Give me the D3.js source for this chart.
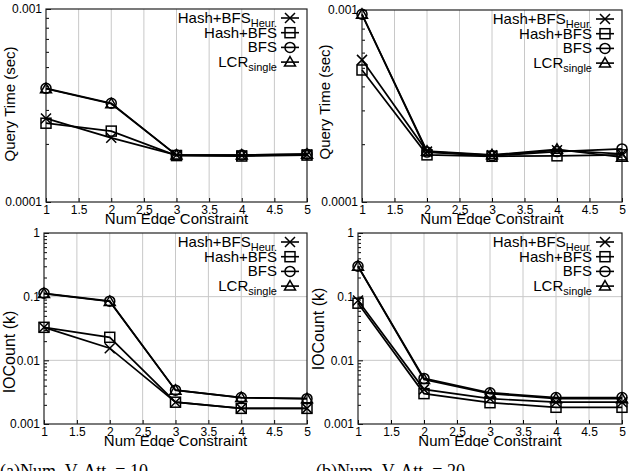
<!DOCTYPE html>
<html>
<head>
  <script src="https://cdn.jsdelivr.net/npm/d3@7"></script>
  <style>body { margin: 0; background: #fff } svg { font-family: "Liberation Sans", Arial, sans-serif }</style>
</head>
<body>
  <div id="fig"></div>
  <script>
    // x values shared by all four panels
    const xs = [1, 2, 3, 4, 5];
    const xTicks = [1, 1.5, 2, 2.5, 3, 3.5, 4, 4.5, 5];
    const xTickLabels = ['1', '1.5', '2', '2.5', '3', '3.5', '4', '4.5', '5'];

    const seriesNames = ['Hash+BFS|Heur.', 'Hash+BFS|', 'BFS|', 'LCR|single'];
    const seriesMarks = ['cross', 'square', 'circle', 'triangle'];

    // query time, 10 vertex attributes
    const qt10Heur = [2.71e-4, 2.15e-4, 1.75e-4, 1.74e-4, 1.76e-4];
    const qt10Hash = [2.56e-4, 2.33e-4, 1.74e-4, 1.73e-4, 1.75e-4];
    const qt10Bfs  = [3.88e-4, 3.25e-4, 1.75e-4, 1.75e-4, 1.77e-4];
    const qt10Lcr  = [3.86e-4, 3.23e-4, 1.75e-4, 1.75e-4, 1.77e-4];
    // query time, 20 vertex attributes
    const qt20Heur = [5.5e-4, 1.83e-4, 1.75e-4, 1.86e-4, 1.78e-4];
    const qt20Hash = [4.87e-4, 1.76e-4, 1.73e-4, 1.74e-4, 1.76e-4];
    const qt20Bfs  = [9.5e-4, 1.82e-4, 1.74e-4, 1.83e-4, 1.89e-4];
    const qt20Lcr  = [9.5e-4, 1.84e-4, 1.76e-4, 1.88e-4, 1.71e-4];
    // IO count, 10 vertex attributes
    const io10Heur = [0.033, 0.0155, 0.0022, 0.00176, 0.00176];
    const io10Hash = [0.033, 0.023, 0.0022, 0.00176, 0.00176];
    const io10Bfs  = [0.113, 0.085, 0.0034, 0.0026, 0.0025];
    const io10Lcr  = [0.112, 0.084, 0.0034, 0.0026, 0.0025];
    // IO count, 20 vertex attributes
    const io20Heur = [0.087, 0.0035, 0.0025, 0.0022, 0.0022];
    const io20Hash = [0.079, 0.0030, 0.00216, 0.00183, 0.00183];
    const io20Bfs  = [0.30, 0.0052, 0.0031, 0.0026, 0.0026];
    const io20Lcr  = [0.30, 0.0050, 0.0030, 0.0025, 0.0025];

    const qtTicks = [1e-4, 1e-3];
    const qtTickLabels = ['0.0001', '0.001'];
    const ioTicks = [1e-3, 1e-2, 1e-1, 1];
    const ioTickLabels = ['0.001', '0.01', '0.1', '1'];

    const captions = ['(a)Num. V. Att. = 10', '(b)Num. V. Att. = 20'];

    const panels = [
      { l: 46, r: 307, t: 9, b: 202, dom: [1e-4, 1e-3], ticks: qtTicks, labels: qtTickLabels,
        title: 'Query Time (sec)', tfs: 15, tx: 15, ty: 104, series: [qt10Heur, qt10Hash, qt10Bfs, qt10Lcr] },
      { l: 362, r: 622, t: 10, b: 202, dom: [1e-4, 1e-3], ticks: qtTicks, labels: qtTickLabels,
        title: 'Query Time (sec)', tfs: 15, tx: 330, ty: 102, series: [qt20Heur, qt20Hash, qt20Bfs, qt20Lcr] },
      { l: 44, r: 307, t: 233, b: 424, dom: [1e-3, 1], ticks: ioTicks, labels: ioTickLabels,
        title: 'IOCount (k)', tfs: 16, tx: 15, ty: 352, series: [io10Heur, io10Hash, io10Bfs, io10Lcr] },
      { l: 358, r: 622, t: 233, b: 424, dom: [1e-3, 1], ticks: ioTicks, labels: ioTickLabels,
        title: 'IOCount (k)', tfs: 16, tx: 324, ty: 329, series: [io20Heur, io20Hash, io20Bfs, io20Lcr] }
    ];

    const W = 630, H = 471;
    const svg = d3.select('#fig').append('svg').attr('width', W).attr('height', H);

    function marker(g, type, s) {
      if (type === 'circle') g.append('circle').attr('r', s);
      else if (type === 'square') g.append('rect').attr('x', -s).attr('y', -s).attr('width', 2 * s).attr('height', 2 * s);
      else if (type === 'triangle') g.append('path').attr('d', `M0,${-s * 1.1}L${s * 1.1},${s * 0.8}L${-s * 1.1},${s * 0.8}Z`);
      else g.append('path').attr('d', `M${-s},${-s}L${s},${s}M${-s},${s}L${s},${-s}`);
    }

    panels.forEach((p, i) => {
      const clipBottom = p.b + 23;
      svg.append('clipPath').attr('id', 'clip' + i)
        .append('rect').attr('x', -20).attr('y', p.t - 20).attr('width', W + 40).attr('height', clipBottom - p.t + 20);
      const g = svg.append('g').attr('clip-path', `url(#clip${i})`);

      const x = d3.scaleLinear().domain([1, 5]).range([p.l, p.r]);
      const y = d3.scaleLog().domain(p.dom).range([p.b, p.t]);

      // grid
      g.append('g').selectAll('line').data(xTicks.slice(1, -1)).join('line')
        .attr('x1', d => x(d)).attr('x2', d => x(d)).attr('y1', p.t).attr('y2', p.b)
        .attr('stroke', '#c8c8c8').attr('stroke-width', 1);
      g.append('g').selectAll('line').data(p.ticks.slice(1, -1)).join('line')
        .attr('x1', p.l).attr('x2', p.r).attr('y1', d => y(d)).attr('y2', d => y(d))
        .attr('stroke', '#c8c8c8').attr('stroke-width', 1);

      // minor ticks on log axis
      const minor = [];
      for (let k = 0; k < p.ticks.length - 1; k++)
        for (let m = 2; m <= 9; m++) minor.push(p.ticks[k] * m);
      g.append('g').attr('transform', `translate(${p.l},0)`)
        .call(d3.axisLeft(y).tickValues(minor).tickSize(-3).tickFormat(''))
        .call(a => a.select('.domain').remove());

      const yAxis = g.append('g').attr('transform', `translate(${p.l},0)`)
        .call(d3.axisLeft(y).tickValues(p.ticks).tickSize(-5).tickPadding(4)
          .tickFormat((d, j) => p.labels[j]));
      yAxis.select('.domain').remove();
      yAxis.selectAll('text').attr('font-size', 12).attr('font-family', 'Liberation Sans, Arial, sans-serif').attr('fill', '#000');

      const xAxis = g.append('g').attr('transform', `translate(0,${p.b})`)
        .call(d3.axisBottom(x).tickValues(xTicks).tickSize(-4).tickPadding(3)
          .tickFormat((d, j) => xTickLabels[j]));
      xAxis.select('.domain').remove();
      xAxis.selectAll('text').attr('font-size', 12).attr('font-family', 'Liberation Sans, Arial, sans-serif').attr('fill', '#000');

      // frame
      g.append('rect').attr('x', p.l).attr('y', p.t).attr('width', p.r - p.l).attr('height', p.b - p.t)
        .attr('fill', 'none').attr('stroke', '#222').attr('stroke-width', 1.2);

      // axis titles
      g.append('text').attr('x', (p.l + p.r) / 2).attr('y', p.b + 22).attr('text-anchor', 'middle')
        .attr('font-size', 15).text('Num Edge Constraint');
      g.append('text').attr('transform', `translate(${p.tx},${p.ty}) rotate(-90)`).attr('text-anchor', 'middle')
        .attr('font-size', p.tfs).text(p.title);

      // series
      const line = d3.line().x((d, j) => x(xs[j])).y(d => y(d));
      p.series.forEach((vals, s) => {
        g.append('path').attr('d', line(vals)).attr('fill', 'none').attr('stroke', '#000').attr('stroke-width', 1.7);
        vals.forEach((v, j) => {
          const mg = g.append('g').attr('transform', `translate(${x(xs[j])},${y(v)})`)
            .attr('fill', 'none').attr('stroke', '#000').attr('stroke-width', 1.5);
          marker(mg, seriesMarks[s], 5);
        });
      });

      // legend
      seriesNames.forEach((nm, s) => {
        const [main, sub] = nm.split('|');
        const ry = p.t + 9 + s * 14.7;
        const t = g.append('text').attr('x', p.r - 30).attr('y', ry + 5).attr('text-anchor', 'end').attr('font-size', 15);
        t.append('tspan').text(main);
        if (sub) t.append('tspan').attr('font-size', 11).attr('dy', 4).text(sub);
        g.append('line').attr('x1', p.r - 26).attr('x2', p.r - 8).attr('y1', ry).attr('y2', ry)
          .attr('stroke', '#000').attr('stroke-width', 1.6);
        const mg = g.append('g').attr('transform', `translate(${p.r - 17},${ry})`)
          .attr('fill', 'none').attr('stroke', '#000').attr('stroke-width', 1.5);
        marker(mg, seriesMarks[s], 5);
      });
    });

    // sub-figure captions, cut by the page edge
    svg.selectAll('text.cap').data(captions).join('text').attr('class', 'cap')
      .attr('x', (d, i) => i === 0 ? 0 : 316).attr('y', 477)
      .attr('font-family', 'Liberation Serif, Times New Roman, serif').attr('font-size', 18)
      .text(d => d);
  </script>
</body>
</html>
